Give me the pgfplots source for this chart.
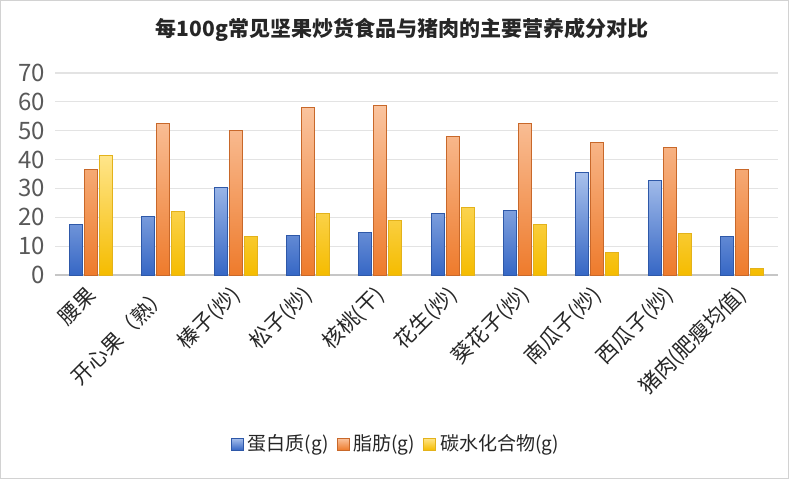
\documentclass[border=0pt]{standalone}
\usepackage{pgfplots}
\pgfplotsset{compat=1.18}
\usepackage{fontspec}
\setmainfont{Noto Sans CJK SC}

\definecolor{bluetop}{HTML}{A9C1EC}
\definecolor{bluebot}{HTML}{3667C5}
\definecolor{blueedge}{HTML}{2E58A8}
\definecolor{orgtop}{HTML}{FAC49F}
\definecolor{orgbot}{HTML}{EE7B2C}
\definecolor{orgedge}{HTML}{C8682A}
\definecolor{yeltop}{HTML}{FFE58A}
\definecolor{yelbot}{HTML}{F5BC00}
\definecolor{yeledge}{HTML}{E3B21B}
\definecolor{txtgray}{HTML}{595959}

\begin{document}
\begin{tikzpicture}
\useasboundingbox (0,0) rectangle (400pt,239.5pt);
\draw[gray!35] (0.4pt,0.4pt) rectangle (394pt,239.1pt);
\node[font=\fontsize{10.5}{12}\selectfont\bfseries, text=black!85] at (201pt,224.5pt)
  {每100g常见坚果炒货食品与猪肉的主要营养成分对比};
\begin{axis}[
  at={(27.5pt,102pt)}, anchor=south west,
  scale only axis, width=361.5pt, height=101pt,
  xmin=-0.5, xmax=9.5, ymin=0, ymax=70,
  ytick={0,10,...,70},
  xtick={0,...,9},
  xticklabels={腰果,开心果（熟）,榛子(炒),松子(炒),核桃(干),花生(炒),葵花子(炒),南瓜子(炒),西瓜子(炒),猪肉(肥瘦均值)},
  /pgf/number format/assume math mode=true,
  ymajorgrids, grid style={gray!22, line width=0.6pt},
  axis x line*=bottom, axis y line*=left,
  x axis line style={gray!45, line width=0.6pt},
  y axis line style={draw=none},
  major tick length=0pt,
  yticklabel style={font=\fontsize{12}{12}\selectfont, text=txtgray, xshift=-1.5pt},
  xticklabel style={font=\fontsize{10.5}{10.5}\selectfont, text=black!85, rotate=45, anchor=east, yshift=-6pt, xshift=-2pt},
  ybar=1pt, bar width=6.5pt,
  clip=false,
  legend columns=3,
  legend style={at={(0.473,-0.837)}, anchor=center, draw=none, fill=none,
    font=\fontsize{9.5}{10}\selectfont, text=black!85,
    /tikz/every even column/.append style={column sep=2pt}},
  legend image code/.code={\draw[#1, line width=0.4pt] (0pt,-3pt) rectangle (6pt,3pt);},
]
\addplot[draw=blueedge, line width=0.5pt, top color=bluetop, bottom color=bluebot]
  coordinates {(0,17.4) (1,20.4) (2,30.5) (3,13.8) (4,14.8) (5,21.4) (6,22.3) (7,35.6) (8,32.6) (9,13.2)};
\addlegendentry{蛋白质(g)}
\addplot[draw=orgedge, line width=0.5pt, top color=orgtop, bottom color=orgbot]
  coordinates {(0,36.7) (1,52.5) (2,50.0) (3,58.1) (4,58.6) (5,47.9) (6,52.5) (7,45.9) (8,44.3) (9,36.7)};
\addlegendentry{脂肪(g)}
\addplot[draw=yeledge, line width=0.5pt, top color=yeltop, bottom color=yelbot]
  coordinates {(0,41.3) (1,21.9) (2,13.3) (3,21.3) (4,18.9) (5,23.4) (6,17.4) (7,7.8) (8,14.4) (9,2.4)};
\addlegendentry{碳水化合物(g)}
\end{axis}
\end{tikzpicture}
\end{document}
